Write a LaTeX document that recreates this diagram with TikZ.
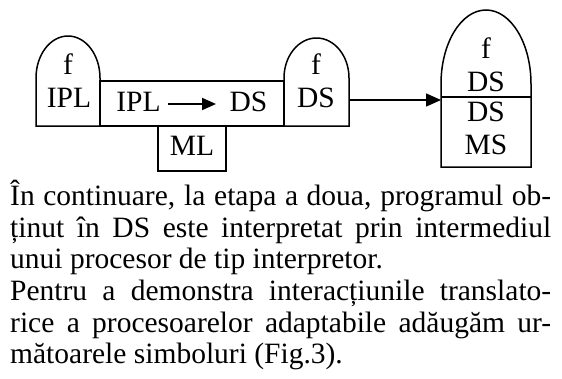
\documentclass[tikz,border=0pt]{standalone}
\usepackage{fontspec}
\setmainfont{Liberation Serif}
\usetikzlibrary{arrows.meta}
\tikzset{
  shp/.style={line width=1.5pt},
  lbl/.style={inner sep=0pt, anchor=base, font=\fontsize{29.5}{32}\selectfont},
  para/.style={inner sep=0pt, anchor=base west, font=\fontsize{29.5}{32}\selectfont},
  conn/.style={line width=1.6pt, -{Triangle[length=15pt,width=13pt]}}
}
\newcommand{\jline}[1]{\makebox[541pt][s]{#1}}
\begin{document}
\begin{tikzpicture}[x=1pt,y=-1pt]
\useasboundingbox (0,0) rectangle (562,378);
% left tombstone
\draw[shp] (36,126) -- (36,78) arc[start angle=180,end angle=0,x radius=32pt,y radius=42pt] -- (100,126) -- cycle;
% middle rectangle
\draw[shp] (100,81) rectangle (284,126);
% ML box
\draw[shp] (158,126) rectangle (226,171);
% second tombstone
\draw[shp] (284,126) -- (284,78) arc[start angle=180,end angle=0,x radius=32.5pt,y radius=40pt] -- (349,126) -- cycle;
% right tall tombstone
\draw[shp] (441,167) -- (441,84) arc[start angle=180,end angle=0,x radius=45pt,y radius=74pt] -- (531,167) -- cycle;
\draw[shp] (441,97) -- (531,97);
% labels
\node[lbl] (lf) at (68,74) {f};
\node[lbl] (lipl) at (69,107) {IPL};
\node[lbl] (mipl) at (138.5,111) {IPL};
\node[lbl] (mds) at (248.5,111) {DS};
\node[lbl] (ml) at (192,155) {ML};
\node[lbl] (sf) at (316,74) {f};
\node[lbl] (sds) at (316,107) {DS};
\node[lbl] (rf) at (486,58) {f};
\node[lbl] (rds1) at (486,91) {DS};
\node[lbl] (rds2) at (486,121) {DS};
\node[lbl] (rms) at (486,154) {MS};
\coordinate (sout) at (349,100);
\coordinate (rin) at (441,100);
\draw[conn] (sout) -- (rin);
\coordinate (aa) at (168,104);
\coordinate (ab) at (216,104);
\draw[line width=2pt, -{Triangle[length=14pt,width=12pt]}] (aa) -- (ab);
% paragraph
\node[para] (p1) at (10,205) {\jline{În continuare, la etapa a doua, programul ob-}};
\node[para] (p2) at (10,237) {\jline{ținut în DS este interpretat prin intermediul}};
\node[para] (p3) at (10,268) {unui procesor de tip interpretor.};
\node[para] (p4) at (10,300) {\jline{Pentru a demonstra interacțiunile translato-}};
\node[para] (p5) at (10,332) {\jline{rice a procesoarelor adaptabile adăugăm ur-}};
\node[para] (p6) at (10,363) {mătoarele simboluri (Fig.3).};
\end{tikzpicture}
\end{document}
